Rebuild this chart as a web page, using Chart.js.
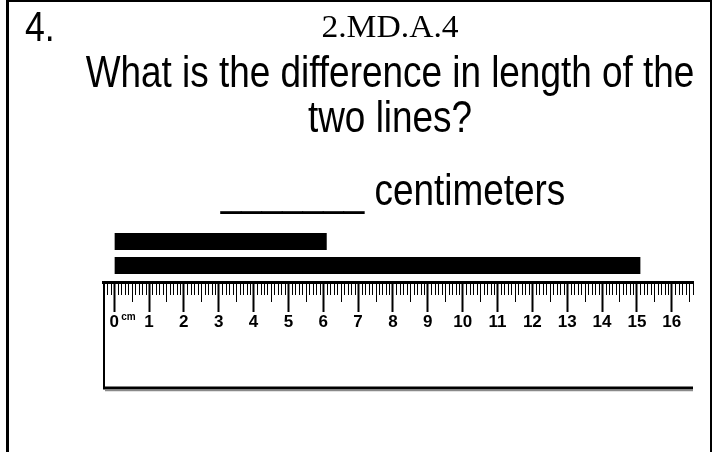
<!DOCTYPE html>
<html>
<head>
<meta charset="utf-8">
<script src="https://cdn.jsdelivr.net/npm/chart.js@4.4.0/dist/chart.umd.min.js"></script>
<style>
  html, body { margin: 0; padding: 0; background: #fff; }
  #wrap { position: relative; width: 720px; height: 452px; overflow: hidden; background: #fff; }
  #c { position: absolute; left: 0; top: 0; }
  .frame { position: absolute; left: 6px; top: 0; width: 706px; height: 470px; box-sizing: border-box;
           border-left: 3px solid #000; border-top: 2px solid #000; border-right: 2px solid #000; }
  .t { position: absolute; white-space: nowrap; color: #000; line-height: 1; }
  .sans { font-family: "Liberation Sans", Arial, sans-serif; }
  .serif { font-family: "Liberation Serif", "Times New Roman", serif; }
  #num { left: 25px; top: 6px; font-size: 42px; transform: scaleX(0.85); transform-origin: left top; }
  #std { left: 389.5px; top: 10px; font-size: 32px; transform: translateX(-50%) scaleX(1.05); }
  .q { font-size: 45px; transform: translateX(-50%) scaleX(0.82); }
  #q1 { left: 389.5px; top: 48.6px; }
  #q2 { left: 389.5px; top: 94.4px; }
  #ans { left: 393px; top: 167px; }
</style>
</head>
<body>
<div id="wrap">
  <canvas id="c" width="720" height="452"></canvas>
  <div class="frame"></div>
  <div class="t sans" id="num">4.</div>
  <div class="t serif" id="std">2.MD.A.4</div>
  <div class="t sans q" id="q1">What is the difference in length of the</div>
  <div class="t sans q" id="q2">two lines?</div>
  <div class="t sans q" id="ans">_______ centimeters</div>
</div>
<script>
// ---- data ----
const categories = ['Lines'];
const shortLine = [6.1];   // cm
const longLine = [15.1];   // cm
const rulerTicks = [0, 1, 2, 3, 4, 5, 6, 7, 8, 9, 10, 11, 12, 13, 14, 15, 16];
const rulerLabels = ['0', '1', '2', '3', '4', '5', '6', '7', '8', '9', '10', '11', '12', '13', '14', '15', '16'];
const rulerUnit = 'cm';

// ---- ruler plugin: millimetre ticks, ruler box and unit mark, positioned by the x scale ----
const rulerPlugin = {
  id: 'ruler',
  afterDraw(chart) {
    const x = chart.scales.x;
    const ctx = chart.ctx;
    const top = x.top;
    ctx.save();
    ctx.strokeStyle = '#000';
    ctx.lineWidth = 1;
    const i0 = Math.ceil(x.min * 10), i1 = Math.floor(x.max * 10);
    for (let i = i0; i <= i1; i++) {
      if (i % 10 === 0) continue;
      const px = Math.round(x.getPixelForValue(i / 10)) + 0.5;
      const len = (i % 5 === 0) ? 20 : 13;
      ctx.beginPath();
      ctx.moveTo(px, top);
      ctx.lineTo(px, top + len);
      ctx.stroke();
    }
    const left = x.left, right = x.right, bottom = top + 106;
    ctx.lineWidth = 2;
    ctx.beginPath(); ctx.moveTo(left + 1, top); ctx.lineTo(left + 1, bottom); ctx.stroke();
    ctx.lineWidth = 3;
    ctx.beginPath(); ctx.moveTo(left, bottom); ctx.lineTo(right, bottom); ctx.stroke();
    ctx.strokeStyle = '#8a8a8a'; ctx.lineWidth = 1.5;
    ctx.beginPath(); ctx.moveTo(left + 2, bottom + 2.5); ctx.lineTo(right, bottom + 2.5); ctx.stroke();
    ctx.fillStyle = '#000';
    ctx.font = 'bold 10px "Liberation Sans"';
    ctx.textBaseline = 'top';
    ctx.fillText(rulerUnit, x.getPixelForValue(rulerTicks[0]) + 7, top + 30);
    ctx.restore();
  }
};

new Chart(document.getElementById('c'), {
  type: 'bar',
  data: {
    labels: categories,
    datasets: [
      { label: 'Short line', data: shortLine, backgroundColor: '#000', borderWidth: 0 },
      { label: 'Long line', data: longLine, backgroundColor: '#000', borderWidth: 0 }
    ]
  },
  options: {
    indexAxis: 'y',
    responsive: false,
    devicePixelRatio: 1,
    animation: false,
    events: [],
    layout: { padding: { top: 225, left: 103, right: 27, bottom: 0 } },
    datasets: { bar: { categoryPercentage: 48 / 57, barPercentage: 17 / 24 } },
    plugins: { legend: { display: false }, tooltip: { enabled: false }, title: { display: false } },
    scales: {
      y: { display: false, offset: true },
      x: {
        type: 'linear',
        position: 'bottom',
        min: -0.32,
        max: 16.61,
        afterFit: (s) => { s.height = 170; },
        afterBuildTicks: (s) => { s.ticks = rulerTicks.map(v => ({ value: v })); },
        border: { display: true, color: '#000', width: 3 },
        grid: { display: true, drawOnChartArea: false, drawTicks: true, tickLength: 30, tickWidth: 2, tickColor: '#000' },
        ticks: {
          color: '#000',
          font: { family: '"Liberation Sans", Arial, sans-serif', weight: 'bold', size: 17 },
          padding: 0,
          maxRotation: 0,
          autoSkip: false,
          callback: (v, i) => rulerLabels[i]
        }
      }
    }
  },
  plugins: [rulerPlugin]
});
</script>
</body>
</html>
